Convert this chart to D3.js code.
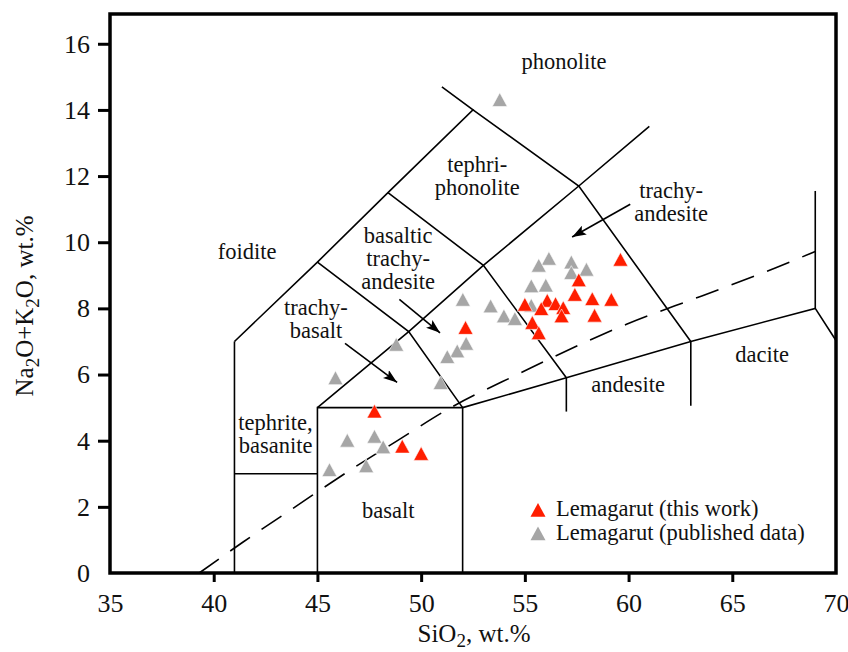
<!DOCTYPE html>
<html>
<head>
<meta charset="utf-8">
<script src="https://cdn.jsdelivr.net/npm/d3@7"></script>
<style>
body { margin: 0; background: #fff; }
</style>
</head>
<body>
<div id="container"></div>
<script>
var width = 848;
var height = 652;
var margin = {left: 110, right: 12, top: 14, bottom: 79};

var xTicks = [35, 40, 45, 50, 55, 60, 65, 70];
var yTicks = [0, 2, 4, 6, 8, 10, 12, 14, 16];

// Lemagarut (this work)
var workSiO2 = [59.61, 57.60, 57.41, 58.25, 59.17, 55.00, 56.08, 56.48, 55.79, 56.85, 56.77, 58.36, 55.36, 55.67, 52.14, 47.75, 49.09, 50.00];
var workAlk  = [9.48, 8.86, 8.42, 8.29, 8.27, 8.12, 8.24, 8.14, 7.99, 8.02, 7.77, 7.79, 7.57, 7.26, 7.42, 4.89, 3.83, 3.61];

// Lemagarut (published data)
var pubSiO2 = [53.79, 56.16, 55.67, 57.24, 57.97, 57.24, 55.31, 56.01, 53.35, 53.99, 54.52, 55.31, 52.01, 52.17, 51.74, 51.26, 48.80, 45.87, 50.94, 46.44, 47.75, 48.17, 47.35, 45.58];
var pubAlk  = [14.31, 9.51, 9.30, 9.40, 9.18, 9.08, 8.68, 8.70, 8.07, 7.77, 7.69, 8.09, 8.27, 6.94, 6.71, 6.54, 6.91, 5.90, 5.75, 4.01, 4.13, 3.81, 3.24, 3.12];

// TAS field boundaries (SiO2, Na2O+K2O)
var fieldLines = [
    [[41, 0], [41, 7]],
    [[41, 7], [45, 9.4], [48.4, 11.5], [52.5, 14], [51, 14.7]],
    [[41, 3], [45, 3]],
    [[45, 0], [45, 5], [52, 5], [52, 0]],
    [[45, 5], [49.4, 7.3], [53, 9.3], [57.6, 11.7], [61, 13.5]],
    [[45, 9.4], [49.4, 7.3], [52, 5]],
    [[48.4, 11.5], [53, 9.3], [57, 5.9]],
    [[52.5, 14], [57.6, 11.7], [63, 7]],
    [[52, 5], [57, 5.9], [63, 7], [69, 8], [70, 7.03]],
    [[57, 5.9], [57, 4.88]],
    [[63, 7], [63, 5.06]],
    [[69, 8], [69, 11.55]]
];

// alkaline / subalkaline divide
var divideLine = [[39.3, 0], [41.4, 0.93], [44, 2.03], [46.6, 3.12], [48.8, 3.98], [51.4, 4.99], [54.8, 6.05], [58.2, 7.06], [59.9, 7.52], [63.5, 8.37], [67.1, 9.23], [69, 9.72]];

var fieldNames = [
    {text: ["phonolite"], x: 56.89, y: 15.24},
    {text: ["tephri-", "phonolite"], x: 52.70, y: 12.12},
    {text: ["basaltic", "trachy-", "andesite"], x: 48.89, y: 9.99},
    {text: ["trachy-", "basalt"], x: 44.93, y: 7.80},
    {text: ["foidite"], x: 41.61, y: 9.49},
    {text: ["tephrite,", "basanite"], x: 42.98, y: 4.32},
    {text: ["basalt"], x: 48.41, y: 1.66},
    {text: ["andesite"], x: 59.98, y: 5.47},
    {text: ["dacite"], x: 66.44, y: 6.38},
    {text: ["trachy-", "andesite"], x: 62.05, y: 11.34}
];

var arrows = [
    [[46.33, 6.94], [48.84, 5.76]],
    [[48.95, 8.27], [50.91, 7.26]],
    [[60.08, 11.15], [57.28, 10.16]]
];

var legendNames = ["Lemagarut (this work)", "Lemagarut (published data)"];
var red = "#ff1e00";
var grey = "#a6a6a6";
var font = "'Liberation Serif', 'Times New Roman', serif";

var xScale = d3.scaleLinear()
    .domain([35, 70])
    .range([margin.left, width - margin.right]);

var yScale = d3.scaleLinear()
    .domain([0, 16.9])
    .range([height - margin.bottom, margin.top]);

var svg = d3.select("#container")
    .append("svg")
    .attr("width", width)
    .attr("height", height)
    .style("font-family", font);

svg.append("defs").append("marker")
    .attr("id", "head")
    .attr("markerUnits", "userSpaceOnUse")
    .attr("viewBox", "0 0 14 10")
    .attr("refX", 14)
    .attr("refY", 5)
    .attr("markerWidth", 14)
    .attr("markerHeight", 10)
    .attr("orient", "auto")
    .append("path")
    .attr("d", "M0,0L14,5L0,10L3,5Z")
    .attr("fill", "#000");

var line = d3.line()
    .x(function (d) { return xScale(d[0]); })
    .y(function (d) { return yScale(d[1]); });

// field boundaries
svg.append("g")
    .selectAll("path")
    .data(fieldLines)
    .enter()
    .append("path")
    .attr("d", line)
    .attr("fill", "none")
    .attr("stroke", "#000")
    .attr("stroke-width", 1.6)
    .attr("stroke-linejoin", "miter");

svg.append("path")
    .datum(divideLine)
    .attr("d", line.curve(d3.curveMonotoneX))
    .attr("fill", "none")
    .attr("stroke", "#000")
    .attr("stroke-width", 1.6)
    .attr("stroke-dasharray", "24,14");
line.curve(d3.curveLinear);

// field names, one text per line
var labelLines = [];
fieldNames.forEach(function (d) {
    d.text.forEach(function (t, i) {
        labelLines.push({t: t, x: d.x, y: d.y, i: i});
    });
});

svg.append("g")
    .selectAll("text")
    .data(labelLines)
    .enter()
    .append("text")
    .attr("x", function (d) { return xScale(d.x); })
    .attr("y", function (d) { return yScale(d.y) + d.i * 23; })
    .attr("text-anchor", "middle")
    .attr("font-size", "22.5px")
    .attr("fill", "#111")
    .text(function (d) { return d.t; });

svg.append("g")
    .selectAll("path")
    .data(arrows)
    .enter()
    .append("path")
    .attr("d", line)
    .attr("stroke", "#000")
    .attr("stroke-width", 1.6)
    .attr("marker-end", "url(#head)");

// points
function tri(cx, cy) {
    return "M" + cx + "," + (cy - 7) + "L" + (cx + 7.5) + "," + (cy + 6.8) + "L" + (cx - 7.5) + "," + (cy + 6.8) + "Z";
}

svg.append("g")
    .selectAll("path")
    .data(pubSiO2)
    .enter()
    .append("path")
    .attr("d", function (d, i) { return tri(xScale(d), yScale(pubAlk[i])); })
    .attr("fill", grey)
    .attr("stroke", "#fff")
    .attr("stroke-width", 0.6);

svg.append("g")
    .selectAll("path")
    .data(workSiO2)
    .enter()
    .append("path")
    .attr("d", function (d, i) { return tri(xScale(d), yScale(workAlk[i])); })
    .attr("fill", red)
    .attr("stroke", "#fff")
    .attr("stroke-width", 0.6);

// legend
var legend = svg.append("g")
    .selectAll("g")
    .data(legendNames)
    .enter()
    .append("g")
    .attr("transform", function (d, i) { return "translate(538," + (510 + i * 23.5) + ")"; });

legend.append("path")
    .attr("d", tri(0, 0))
    .attr("fill", function (d, i) { return i === 0 ? red : grey; });

legend.append("text")
    .attr("x", 18)
    .attr("y", 6)
    .attr("font-size", "22.5px")
    .attr("fill", "#111")
    .text(function (d) { return d; });

// axes
var xAxis = d3.axisBottom(xScale)
    .tickValues(xTicks)
    .tickSize(9)
    .tickPadding(12)
    .tickFormat(d3.format("d"));
var gx = svg.append("g")
    .attr("transform", "translate(0," + (height - margin.bottom) + ")")
    .call(xAxis);

var yAxis = d3.axisLeft(yScale)
    .tickValues(yTicks)
    .tickSize(12)
    .tickPadding(8)
    .tickFormat(d3.format("d"));
var gy = svg.append("g")
    .attr("transform", "translate(" + margin.left + ",0)")
    .call(yAxis);

[gx, gy].forEach(function (g) {
    g.select(".domain").remove();
    g.selectAll("line").attr("stroke", "#000").attr("stroke-width", 3);
    g.selectAll("text")
        .attr("font-family", font)
        .attr("font-size", "26px")
        .attr("fill", "#111");
});
gx.selectAll(".tick").filter(function (d) { return d === 35 || d === 70; }).select("line").remove();
gy.selectAll(".tick").filter(function (d) { return d === 0; }).select("line").remove();

// frame
svg.append("rect")
    .attr("x", margin.left)
    .attr("y", margin.top)
    .attr("width", width - margin.left - margin.right)
    .attr("height", height - margin.top - margin.bottom)
    .attr("fill", "none")
    .attr("stroke", "#000")
    .attr("stroke-width", 3.5);

// axis titles
var xTitle = svg.append("text")
    .attr("x", 474)
    .attr("y", 642)
    .attr("text-anchor", "middle")
    .attr("font-size", "25px")
    .attr("fill", "#111");
xTitle.append("tspan").text("SiO");
xTitle.append("tspan").attr("dy", 5).attr("font-size", "19px").text("2");
xTitle.append("tspan").attr("dy", -5).text(", wt.%");

var yTitle = svg.append("text")
    .attr("transform", "translate(33," + 306 + ") rotate(-90)")
    .attr("text-anchor", "middle")
    .attr("font-size", "25px")
    .attr("fill", "#111");
yTitle.append("tspan").text("Na");
yTitle.append("tspan").attr("dy", 6).attr("font-size", "19px").text("2");
yTitle.append("tspan").attr("dy", -6).text("O+K");
yTitle.append("tspan").attr("dy", 6).attr("font-size", "19px").text("2");
yTitle.append("tspan").attr("dy", -6).text("O, wt.%");
</script>
</body>
</html>
